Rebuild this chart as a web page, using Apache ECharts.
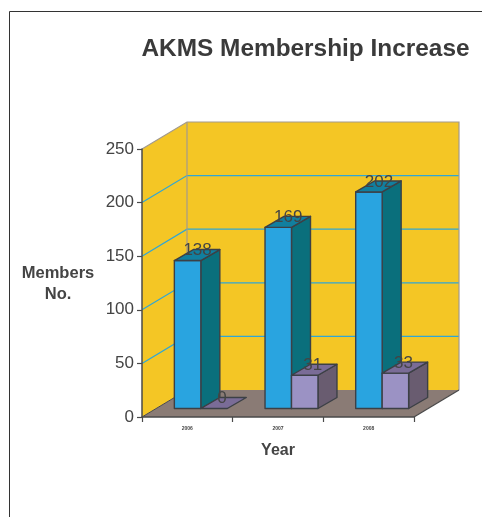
<!DOCTYPE html>
<html><head><meta charset="utf-8">
<style>html,body{margin:0;padding:0;background:#fff}#c{width:482px;height:517px}</style>
<script src="https://cdn.jsdelivr.net/npm/echarts@6/dist/echarts.min.js"></script>
</head><body><div id="c"></div>
<script>
const categories = ['2006', '2007', '2008'];
const membersA = [138, 169, 202];
const membersB = [0, 31, 33];
const gridValues = [50, 100, 150, 200];
const valueMax = 250;
const FONT = '"Liberation Sans", Arial, sans-serif';
const TXT = '#444444';
const WALL_DX = 45, WALL_DY = -27;       // depth of the whole scene
const BAR_DX = 19, BAR_DY = -11;         // depth of one bar
const SHIFT_X = 13.5, SHIFT_Y = -8.5;    // bars stand in from the front of the floor
const BAR_FRAC = 0.292;
const EDGE = '#3c4046';

const chart = echarts.init(document.getElementById('c'), null, {renderer: 'canvas'});

function poly(points, fill, stroke, lw) {
  return {type: 'polygon', shape: {points}, style: {fill, stroke: stroke || null, lineWidth: lw || 0, lineJoin: 'round'}};
}
function line(a, b, stroke, lw) {
  return {type: 'line', shape: {x1: a[0], y1: a[1], x2: b[0], y2: b[1]}, style: {stroke, lineWidth: lw}};
}
function renderWalls(params, api) {
  const cs = params.coordSys;
  const l = cs.x, r = cs.x + cs.width, t = cs.y, b = cs.y + cs.height;
  const d = (x, y) => [x + WALL_DX, y + WALL_DY];
  const kids = [
    poly([[l, t], d(l, t), d(l, b), [l, b]], '#f4c625'),
    poly([d(l, t), d(r, t), d(r, b), d(l, b)], '#f4c625'),
    poly([[l, b], d(l, b), d(r, b), [r, b]], '#8a7b75')
  ];
  gridValues.forEach(v => {
    const y = api.coord([0, v])[1];
    kids.push({type: 'polyline', shape: {points: [[l, y], d(l, y), d(r, y)]},
      style: {fill: null, stroke: '#2fa6d6', lineWidth: 1.2}});
  });
  kids.push(
    {type: 'polyline', shape: {points: [[l, t], d(l, t), d(r, t), d(r, b)]},
      style: {fill: null, stroke: '#a39a8c', lineWidth: 1.2}},
    line(d(l, t), d(l, b), '#a39a8c', 1.2),
    line([l, b], d(l, b), '#4a4a4a', 1),
    line([r, b], d(r, b), '#4a4a4a', 1.2)
  );
  return {type: 'group', children: kids};
}
function makeBar(side, front, top, flank, labelDx, labelDy) {
  return function (params, api) {
    const cat = api.value(0), val = api.value(1);
    const tp = api.coord([cat, val]), bt = api.coord([cat, 0]);
    const w = api.size([1, 0])[0] * BAR_FRAC;
    const cx = tp[0] + SHIFT_X;
    const x0 = side < 0 ? cx - w : cx, x1 = x0 + w;
    const yT = tp[1] + SHIFT_Y, yB = bt[1] + SHIFT_Y;
    const kids = [];
    if (val > 0) {
      kids.push(poly([[x1, yT], [x1 + BAR_DX, yT + BAR_DY], [x1 + BAR_DX, yB + BAR_DY], [x1, yB]], flank, EDGE, 1.4));
      kids.push(poly([[x0, yT], [x1, yT], [x1, yB], [x0, yB]], front, EDGE, 1.4));
    }
    kids.push(poly([[x0, yT], [x1, yT], [x1 + BAR_DX, yT + BAR_DY], [x0 + BAR_DX, yT + BAR_DY]], top, EDGE, 1.4));
    kids.push({type: 'text', style: {text: String(val), x: (x0 + x1) / 2 + labelDx, y: yT + labelDy,
      align: 'center', verticalAlign: 'middle', font: '17px ' + FONT, fill: '#444444'}, z2: 10});
    return {type: 'group', children: kids};
  };
}
const dataA = categories.map((c, i) => [i, membersA[i]]);
const dataB = categories.map((c, i) => [i, membersB[i]]);

chart.setOption({
  animation: false,
  tooltip: {show: false},
  title: {text: 'AKMS Membership Increase', left: 300.5, top: 32, textAlign: 'center',
    textStyle: {fontFamily: FONT, fontSize: 24.4, fontWeight: 'bold', color: '#3a3a3a', align: 'center'}},
  grid: {left: 142, right: 68, top: 149, bottom: 100, containLabel: false},
  xAxis: {type: 'category', data: categories, z: 5,
    name: 'Year', nameLocation: 'middle', nameGap: 26,
    nameTextStyle: {fontFamily: FONT, fontSize: 16, fontWeight: 'bold', color: TXT},
    axisLine: {lineStyle: {color: '#4a4a4a', width: 1.5}},
    axisTick: {show: true, length: 5, lineStyle: {color: '#4a4a4a', width: 1.2}},
    axisLabel: {fontFamily: FONT, fontSize: 5, color: TXT, margin: 9, fontWeight: 'bold'},
    splitLine: {show: false}},
  yAxis: {type: 'value', min: 0, max: valueMax, interval: 50, z: 5,
    axisLine: {show: true, lineStyle: {color: '#4a4a4a', width: 1.5}},
    axisTick: {show: true, length: 5, lineStyle: {color: '#4a4a4a', width: 1.2}},
    axisLabel: {fontFamily: FONT, fontSize: 17, color: TXT, margin: 8},
    splitLine: {show: false}},
  graphic: [
    {type: 'line', shape: {x1: 9.5, y1: 11.5, x2: 482, y2: 11.5}, style: {stroke: '#333', lineWidth: 1}},
    {type: 'line', shape: {x1: 9.5, y1: 11.5, x2: 9.5, y2: 517}, style: {stroke: '#333', lineWidth: 1}},
    {type: 'text', x: 58, y: 263, style: {text: 'Members\nNo.', align: 'center',
      font: 'bold 16.5px ' + FONT, fill: TXT, lineHeight: 21}}
  ],
  series: [
    {type: 'custom', z: 1, coordinateSystem: 'cartesian2d', silent: true, data: [[0, 0]], renderItem: renderWalls, clip: false},
    {type: 'custom', z: 2, coordinateSystem: 'cartesian2d', silent: true, data: dataA, clip: false,
      renderItem: makeBar(-1, '#29a4e0', '#117f9f', '#0a6f7c', 10, -10)},
    {type: 'custom', z: 3, coordinateSystem: 'cartesian2d', silent: true, data: dataB, clip: false,
      renderItem: makeBar(1, '#9b92c4', '#7a6c97', '#695c70', 8, -10)}
  ]
});
</script></body></html>
